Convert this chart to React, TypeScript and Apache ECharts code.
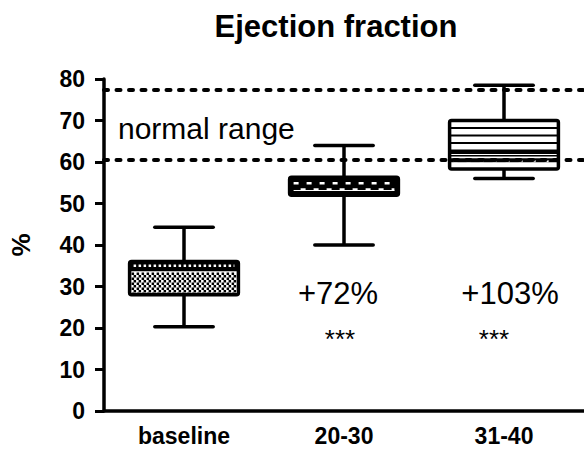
import React, { useEffect, useRef } from "react";
import * as echarts from "echarts";

const categories = ["baseline", "20-30", "31-40"];
const whiskerLow = [20.3, 40, 56];
const q1 = [28, 52, 58.3];
const median = [33.7, 54, 62.5];
const q3 = [36, 56.3, 70];
const whiskerHigh = [44.3, 64, 78.5];
const normalRange = [60.5, 77.5];
const yMin = 0;
const yMax = 80;
const yInterval = 10;
const changeLabels = ["+72%", "+103%"];
const significance = ["***", "***"];

const FONT = "'Liberation Sans', Arial, Helvetica, sans-serif";
const patterns = ["checker", "dashes", "lines"];

function renderBox(params: any, api: any) {
  const i = api.value(0);
  const x = api.coord([i, 0])[0];
  const band = api.size([1, 0])[0];
  const boxW = band * 0.68;
  const capW = band * 0.365;
  const yLo = api.coord([i, api.value(1)])[1];
  const yQ1 = api.coord([i, api.value(2)])[1];
  const yMed = api.coord([i, api.value(3)])[1];
  const yQ3 = api.coord([i, api.value(4)])[1];
  const yHi = api.coord([i, api.value(5)])[1];
  const L = x - boxW / 2;
  const R = x + boxW / 2;
  const black = "#000";
  const lw = 3.5;
  const children: any[] = [];
  const ln = (x1: number, y1: number, x2: number, y2: number, style: any) => ({
    type: "line",
    shape: { x1, y1, x2, y2 },
    style: Object.assign({ stroke: black, lineWidth: lw, lineCap: "butt" }, style),
  });
  // whiskers
  children.push(ln(x, yQ3, x, yHi, {}));
  children.push(ln(x, yQ1, x, yLo, {}));
  children.push(ln(x - capW / 2, yHi, x + capW / 2, yHi, { lineCap: "round" }));
  children.push(ln(x - capW / 2, yLo, x + capW / 2, yLo, { lineCap: "round" }));
  // box background
  children.push({
    type: "rect",
    shape: { x: L, y: yQ3, width: boxW, height: yQ1 - yQ3 },
    style: { fill: "#fff" },
  });
  const p = patterns[i];
  if (p === "checker") {
    children.push({
      type: "rect",
      shape: { x: L, y: yQ3, width: boxW, height: yMed - yQ3 },
      style: { fill: black },
    });
    children.push(
      ln(L + 4, (yQ3 + yMed) / 2 - 0.5, R - 4, (yQ3 + yMed) / 2 - 0.5, {
        stroke: "#fff",
        lineWidth: 2.5,
        lineDash: [2.5, 2.5],
      })
    );
    let k = 0;
    for (let yy = yMed + 2.5; yy < yQ1 - 1; yy += 2.5) {
      children.push(
        ln(L + 2, yy, R - 2, yy, {
          lineWidth: 2.5,
          lineDash: [2.5, 2.5],
          lineDashOffset: k % 2 === 0 ? 0 : 2.5,
        })
      );
      k++;
    }
  } else if (p === "dashes") {
    children.push({
      type: "rect",
      shape: { x: L, y: yQ3, width: boxW, height: yQ1 - yQ3 },
      style: { fill: black },
    });
    const yA = yQ3 + (yQ1 - yQ3) * 0.33;
    const yB = yQ3 + (yQ1 - yQ3) * 0.68;
    children.push(ln(L + 4, yA, R - 4, yA, { stroke: "#fff", lineWidth: 2.5, lineDash: [5, 8] }));
    children.push(ln(L + 4, yB + 1, R - 4, yB + 1, { stroke: "#fff", lineWidth: 1 }));
    children.push(ln(L + 4, yB, R - 4, yB, { stroke: "#fff", lineWidth: 2.5, lineDash: [5, 8], lineDashOffset: 6 }));
  } else {
    for (let yy = yQ3 + 7.5; yy < yMed - 3; yy += 7.5) {
      children.push(ln(L, yy, R, yy, { lineWidth: 1.8 }));
    }
    children.push(ln(L, yMed, R, yMed, { lineWidth: 4.5 }));
    children.push(ln(L, yMed + 4, R, yMed + 4, { lineWidth: 1.5 }));
    children.push(ln(L, yMed + 8.5, R, yMed + 8.5, { lineWidth: 4 }));
    children.push(ln(L + 4, yMed + 9.5, R - 4, yMed + 9.5, { stroke: "#fff", lineWidth: 2, lineDash: [4, 9] }));
  }
  // box outline
  children.push({
    type: "rect",
    shape: { x: L, y: yQ3, width: boxW, height: yQ1 - yQ3, r: 2 },
    style: { fill: "none", stroke: black, lineWidth: lw },
  });
  return { type: "group", children };
}

export default function App() {
  const ref = useRef<HTMLDivElement>(null);
  useEffect(() => {
    if (!ref.current) return;
    const chart = echarts.init(ref.current, null, { renderer: "svg" });
    const data = categories.map((c, i) => [i, whiskerLow[i], q1[i], median[i], q3[i], whiskerHigh[i]]);
    chart.setOption({
      animation: false,
      backgroundColor: "#fff",
      grid: { left: 91, right: 0, top: 79, bottom: 38, containLabel: false },
      xAxis: {
        type: "category",
        data: categories,
        boundaryGap: true,
        axisLine: { lineStyle: { color: "#000", width: 3.5 } },
        axisTick: { alignWithLabel: true, length: 10, lineStyle: { color: "#000", width: 3 } },
        axisLabel: { color: "#000", fontFamily: FONT, fontWeight: "bold", fontSize: 23, margin: 13 },
      },
      yAxis: {
        type: "value",
        min: yMin,
        max: yMax,
        interval: yInterval,
        name: "%",
        nameLocation: "middle",
        nameGap: 70,
        nameRotate: 90,
        nameTextStyle: { color: "#000", fontFamily: FONT, fontWeight: "bold", fontSize: 26 },
        axisLine: { show: true, lineStyle: { color: "#000", width: 3.5 } },
        axisTick: { show: true, length: 9, lineStyle: { color: "#000", width: 3 } },
        splitLine: { show: false },
        axisLabel: { color: "#000", fontFamily: FONT, fontWeight: "bold", fontSize: 23, margin: 19 },
      },
      series: [
        {
          type: "custom",
          renderItem: renderBox,
          encode: { x: 0, y: [1, 2, 3, 4, 5] },
          data,
          z: 2,
        },
        {
          type: "line",
          data: [],
          z: 10,
          markLine: {
            silent: true,
            symbol: "none",
            label: { show: false },
            lineStyle: { color: "#000", width: 4, type: [4, 8.5], cap: "round" },
            data: normalRange.map((v) => ({ yAxis: v })),
          },
        },
      ],
      graphic: [
        {
          type: "text",
          x: 336,
          y: 26,
          style: { text: "Ejection fraction", font: `bold 31px ${FONT}`, fill: "#000", textAlign: "center", textVerticalAlign: "middle" },
        },
        {
          type: "text",
          x: 118,
          y: 128,
          style: { text: "normal range", font: `30px ${FONT}`, fill: "#000", textAlign: "left", textVerticalAlign: "middle" },
        },
        {
          type: "text",
          x: 338,
          y: 293,
          style: { text: changeLabels[0], font: `31px ${FONT}`, fill: "#000", textAlign: "center", textVerticalAlign: "middle" },
        },
        {
          type: "text",
          x: 510,
          y: 293,
          style: { text: changeLabels[1], font: `31px ${FONT}`, fill: "#000", textAlign: "center", textVerticalAlign: "middle" },
        },
        {
          type: "text",
          x: 340,
          y: 339,
          style: { text: significance[0], font: `26px ${FONT}`, fill: "#000", textAlign: "center", textVerticalAlign: "middle" },
        },
        {
          type: "text",
          x: 494,
          y: 339,
          style: { text: significance[1], font: `26px ${FONT}`, fill: "#000", textAlign: "center", textVerticalAlign: "middle" },
        },
      ],
    });
    return () => chart.dispose();
  }, []);
  return <div ref={ref} style={{ width: 584, height: 449, position: "absolute", left: 0, top: 0 }} />;
}
